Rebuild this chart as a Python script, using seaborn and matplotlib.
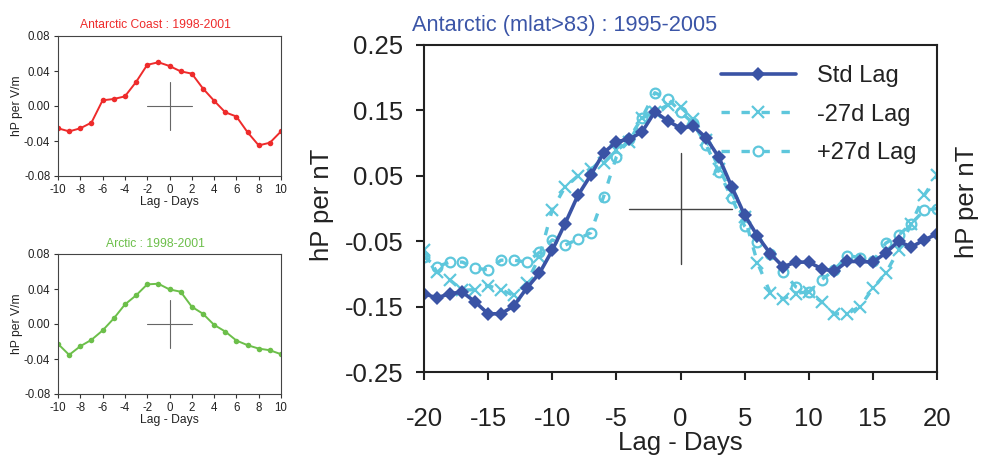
import matplotlib
matplotlib.use("Agg")
import matplotlib.pyplot as plt
import seaborn as sns
import pandas as pd
from matplotlib.lines import Line2D

# ---------------- data ----------------
days_small = list(range(-10, 11))
antarctic_coast = [-0.0255, -0.029, -0.0255, -0.019, 0.0065, 0.008, 0.011, 0.0274, 0.047, 0.050,
                   0.0457, 0.0396, 0.037, 0.020, 0.006, -0.0072, -0.012, -0.030, -0.045, -0.042, -0.029]
arctic = [-0.0227, -0.0353, -0.0254, -0.0181, -0.0074, 0.0063, 0.0223, 0.0327, 0.0453, 0.046,
          0.0395, 0.0369, 0.0197, 0.0117, -0.001, -0.0086, -0.0189, -0.0242, -0.0281, -0.030, -0.0345]

days_main = list(range(-20, 21))
std_lag = [-0.130, -0.137, -0.130, -0.128, -0.143, -0.161, -0.161, -0.149, -0.122, -0.099,
           -0.064, -0.023, 0.020, 0.051, 0.085, 0.102, 0.106, 0.117, 0.148, 0.134,
           0.123, 0.126, 0.108, 0.078, 0.033, -0.010, -0.042, -0.069, -0.089, -0.082,
           -0.082, -0.092, -0.096, -0.081, -0.081, -0.082, -0.068, -0.050, -0.059, -0.048, -0.039]
minus27_lag = [-0.064, -0.097, -0.109, -0.125, -0.124, -0.118, -0.124, -0.133, -0.114, -0.074,
               -0.002, 0.033, 0.050, 0.061, 0.069, 0.089, 0.102, 0.138, 0.148, 0.158,
               0.155, 0.137, 0.105, 0.061, 0.023, -0.013, -0.083, -0.129, -0.138, -0.130,
               -0.127, -0.143, -0.161, -0.161, -0.150, -0.122, -0.099, -0.064, -0.023, 0.020, 0.051]
plus27_lag = [-0.074, -0.089, -0.082, -0.082, -0.091, -0.094, -0.079, -0.079, -0.082, -0.067,
              -0.048, -0.056, -0.047, -0.037, 0.018, 0.079, 0.107, 0.139, 0.177, 0.168,
              0.148, 0.130, 0.097, 0.056, 0.016, -0.027, -0.051, -0.069, -0.097, -0.120,
              -0.128, -0.109, -0.094, -0.072, -0.075, -0.081, -0.053, -0.041, -0.023, -0.003, 0.000]

small_yticks = [-0.08, -0.04, 0.00, 0.04, 0.08]
small_xticks = list(range(-10, 11, 2))
main_yticks = [-0.25, -0.15, -0.05, 0.05, 0.15, 0.25]
main_xticks = list(range(-20, 21, 5))

# ---------------- style ----------------
sns.set_style("ticks")
plt.rcParams["font.family"] = ["Liberation Sans", "DejaVu Sans"]
plt.rcParams["axes.unicode_minus"] = False

W, H = 981, 458
fig = plt.figure(figsize=(W / 100, H / 100), dpi=100)


def axes_px(l, t, r, b):
    return fig.add_axes([l / W, 1 - b / H, (r - l) / W, (b - t) / H])


def small_panel(ax, values, color, title, title_x, title_y):
    df = pd.DataFrame({"day": days_small, "val": values})
    sns.lineplot(data=df, x="day", y="val", ax=ax, color=color, marker="o",
                 markersize=4, markeredgewidth=0, linewidth=1.4)
    ax.plot([-2, 2], [0, 0], color="#666666", lw=0.8)
    ax.plot([0, 0], [-0.027, 0.027], color="#666666", lw=0.8)
    ax.set_xlim(-10, 10)
    ax.set_ylim(-0.08, 0.08)
    ax.set_xticks(small_xticks)
    ax.set_yticks(small_yticks)
    ax.set_yticklabels([f"{v:.2f}" for v in small_yticks])
    ax.tick_params(labelsize=8.3, length=3, width=0.8, pad=2.5, colors="#333333",
                   labelcolor="#222222", direction="out")
    for s in ax.spines.values():
        s.set_visible(True)
        s.set_linewidth(0.8)
        s.set_color("#444444")
    ax.set_xlabel("Lag - Days", fontsize=8.7, color="#222222", labelpad=0)
    ax.set_ylabel("hP per V/m", fontsize=8.7, color="#222222", labelpad=1)
    fig.text(title_x / W, 1 - title_y / H, title, color=color, fontsize=8.7,
             ha="center", va="baseline")


ax1 = axes_px(58, 36, 281, 176)
small_panel(ax1, antarctic_coast, "#ee2b2b", "Antarctic Coast : 1998-2001", 155, 28)
ax2 = axes_px(58, 254, 281, 394)
small_panel(ax2, arctic, "#6cbf4a", "Arctic : 1998-2001", 155, 247)

# ---------------- main panel ----------------
axm = axes_px(424, 45, 937, 372)
dark = "#3a53a5"
cyan = "#5ec7dc"
dash = (0, (2.5, 3.5))
dfm = pd.DataFrame({"day": days_main, "std": std_lag, "m27": minus27_lag, "p27": plus27_lag})

sns.lineplot(data=dfm, x="day", y="m27", ax=axm, color=cyan, linewidth=2.4,
             linestyle=dash, marker="x", markersize=8, markeredgewidth=1.6,
             markeredgecolor=cyan)
sns.lineplot(data=dfm, x="day", y="p27", ax=axm, color=cyan, linewidth=2.4,
             linestyle=dash, marker="o", markersize=7, markeredgewidth=1.6,
             markerfacecolor="none", markeredgecolor=cyan)
sns.lineplot(data=dfm, x="day", y="std", ax=axm, color=dark, linewidth=2.6,
             marker="D", markersize=7.5, markeredgewidth=0)

axm.plot([-4, 4], [0, 0], color="#444444", lw=1.0)
axm.plot([0, 0], [-0.085, 0.085], color="#444444", lw=1.0)

axm.set_xlim(-20, 20)
axm.set_ylim(-0.25, 0.25)
axm.set_xticks(main_xticks)
axm.set_yticks(main_yticks)
axm.set_yticklabels([f"{v:.2f}" for v in main_yticks])
axm.tick_params(labelsize=18.5, length=6, width=1.5, pad=9, colors="#222222",
                labelcolor="#222222", direction="out")
axm.tick_params(axis="x", pad=19)
for s in axm.spines.values():
    s.set_visible(True)
    s.set_linewidth(1.5)
    s.set_color("#222222")
axm.set_xlabel("Lag - Days", fontsize=18.5, color="#222222", labelpad=0)
axm.set_ylabel("")
fig.text(322 / W, 1 - 205 / H, "hP per nT", rotation=90, fontsize=18.5,
         color="#222222", ha="center", va="center")
fig.text(967 / W, 1 - 202 / H, "hP per nT", rotation=90, fontsize=18.5,
         color="#222222", ha="center", va="center")
fig.text(565 / W, 1 - 31 / H, "Antarctic (mlat>83) : 1995-2005", fontsize=15.7,
         color="#3b55a7", ha="center", va="baseline")

handles = [
    Line2D([], [], color=dark, lw=2.6, marker="D", markersize=7.5, markeredgewidth=0),
    Line2D([], [], color=cyan, lw=2.4, linestyle=dash, marker="x",
           markersize=8, markeredgewidth=1.6),
    Line2D([], [], color=cyan, lw=2.4, linestyle=dash, marker="o",
           markersize=7, markeredgewidth=1.6, markerfacecolor="white", markeredgecolor=cyan),
]
axm.legend(handles, ["Std Lag", "-27d Lag", "+27d Lag"], loc="upper right",
           bbox_to_anchor=(1.0, 1.0), frameon=False, fontsize=17,
           handlelength=3.2, handletextpad=0.9, labelspacing=0.7, borderaxespad=0.45,
           labelcolor="#222222")

fig.savefig("out.png", dpi=100)
